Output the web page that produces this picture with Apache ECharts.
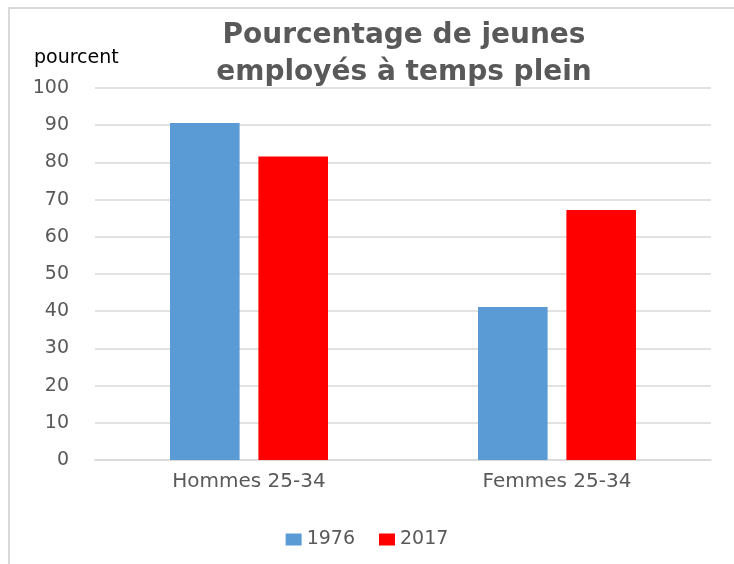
<!DOCTYPE html>
<html>
<head>
<meta charset="utf-8">
<script src="https://cdn.jsdelivr.net/npm/echarts@6/dist/echarts.min.js"></script>
<style>
  html, body { margin: 0; padding: 0; background: #fff; }
  #chart { width: 734px; height: 564px; }
</style>
</head>
<body>
<div id="chart"></div>
<script>
const categories = ['Hommes 25-34', 'Femmes 25-34']
const seriesNames = ['1976', '2017']
const values1976 = [90.6, 41.1]
const values2017 = [81.6, 67.2]
const yTicks = [0, 10, 20, 30, 40, 50, 60, 70, 80, 90, 100]

const textColor = '#595959'
const font = 'DejaVu Sans'

const chart = echarts.init(document.getElementById('chart'))

const option = {
  backgroundColor: '#fff',
  animation: false,
  textStyle: { fontFamily: font },
  graphic: [
    {
      // frame of the original chart box, cut off at right and bottom
      type: 'polyline',
      shape: { points: [[9, 600], [9, 8], [760, 8]] },
      style: { fill: 'none', stroke: '#d9d9d9', lineWidth: 2 },
      silent: true
    }
  ],
  title: {
    text: 'Pourcentage de jeunes\nemployés à temps plein',
    left: 399,
    top: 12,
    textAlign: 'center',
    textStyle: {
      color: textColor,
      fontSize: 28,
      fontWeight: 'bold',
      fontFamily: font,
      lineHeight: 37
    }
  },
  legend: {
    data: seriesNames,
    bottom: 10,
    left: 'center',
    itemWidth: 16,
    itemHeight: 12,
    itemGap: 24,
    icon: 'rect',
    textStyle: { color: textColor, fontSize: 19, fontFamily: font }
  },
  grid: {
    left: 95,
    right: 23,
    top: 88,
    bottom: 104,
    containLabel: false
  },
  xAxis: {
    type: 'category',
    data: categories,
    axisLine: { lineStyle: { color: '#d9d9d9', width: 1.5 } },
    axisTick: { show: false },
    axisLabel: {
      color: textColor,
      fontSize: 20,
      margin: 12,
      fontFamily: font
    }
  },
  yAxis: {
    type: 'value',
    min: yTicks[0],
    max: yTicks[yTicks.length - 1],
    interval: 10,
    name: 'pourcent',
    nameLocation: 'end',
    nameGap: 20,
    nameTextStyle: {
      color: '#000',
      fontSize: 19,
      align: 'left',
      padding: [0, 0, 0, -61],
      fontFamily: font
    },
    axisLine: { show: false },
    axisTick: { show: false },
    axisLabel: {
      color: textColor,
      fontSize: 19,
      margin: 26,
      fontFamily: font
    },
    splitLine: { lineStyle: { color: '#d9d9d9', width: 1.5 } }
  },
  series: [
    {
      name: seriesNames[0],
      type: 'bar',
      data: values1976,
      barWidth: '22.6%',
      barGap: '27%',
      itemStyle: { color: '#5b9bd5' }
    },
    {
      name: seriesNames[1],
      type: 'bar',
      data: values2017,
      barWidth: '22.6%',
      barGap: '27%',
      itemStyle: { color: '#ff0000' }
    }
  ]
}

chart.setOption(option)
</script>
</body>
</html>
